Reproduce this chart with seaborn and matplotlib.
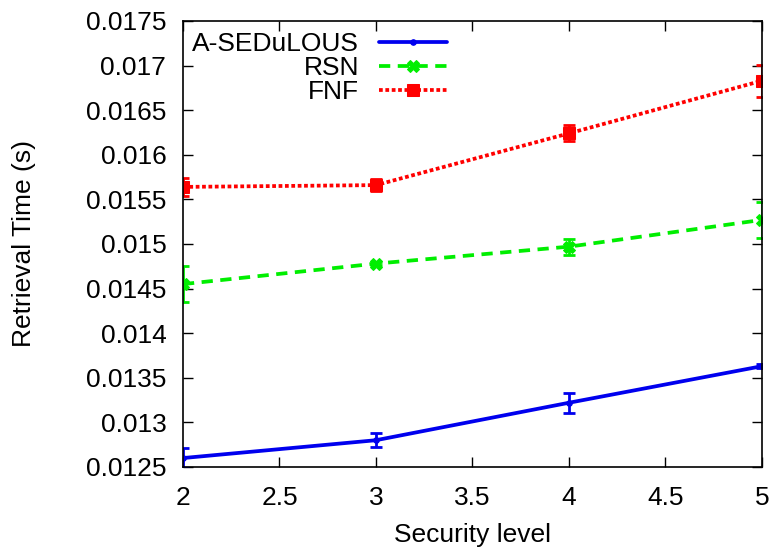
import matplotlib
matplotlib.use("Agg")
import matplotlib.pyplot as plt
import seaborn as sns
import pandas as pd
import numpy as np

levels = [2, 3, 4, 5]
sedulous = [0.01260, 0.01280, 0.01322, 0.01363]
sedulous_err = [0.00011, 0.00008, 0.00011, 0.00002]
rsn = [0.01455, 0.01478, 0.01497, 0.01527]
rsn_err = [0.00020, 0.00002, 0.00009, 0.00020]
fnf = [0.01564, 0.01566, 0.01624, 0.01683]
fnf_err = [0.00010, 0.00007, 0.00009, 0.00018]

series_names = ["A-SEDuLOUS", "RSN", "FNF"]
colors = ["#0000ee", "#00ee00", "#ff0000"]

sns.set_style("ticks", rc={"text.color": "black", "axes.labelcolor": "black",
                           "xtick.color": "black", "ytick.color": "black",
                           "axes.edgecolor": "black"})
plt.rcParams["font.family"] = ["Liberation Sans", "DejaVu Sans"]

fig = plt.figure(figsize=(7.74, 5.51), dpi=100)
ax = fig.add_axes([0.2364, 0.1525, 0.748, 0.8094])

df = pd.DataFrame({
    "level": levels * 3,
    "time": sedulous + rsn + fnf,
    "err": sedulous_err + rsn_err + fnf_err,
    "series": sum([[n] * len(levels) for n in series_names], []),
})

styles = {
    "A-SEDuLOUS": dict(ls="-", marker="o", ms=4, lw=2.7),
    "RSN": dict(ls=(0, (3, 2)), marker="X", ms=8, lw=2.7),
    "FNF": dict(ls=(0, (1, 0.7)), marker="s", ms=8, lw=2.7),
}

for name, col in zip(series_names, colors):
    sub = df[df["series"] == name]
    st = styles[name]
    sns.lineplot(data=sub, x="level", y="time", ax=ax, color=col,
                 linestyle=st["ls"], linewidth=st["lw"], marker=st["marker"],
                 markersize=st["ms"], markeredgecolor=col, label=name,
                 errorbar=None)
    ax.errorbar(sub["level"], sub["time"], yerr=sub["err"], fmt="none",
                ecolor=col, elinewidth=2, capsize=4, capthick=2,
                linestyle=st["ls"])

ax.set_xlim(2, 5)
ax.set_ylim(0.0125, 0.0175)
ax.set_xticks([2, 2.5, 3, 3.5, 4, 4.5, 5])
ax.set_xticklabels(["2", "2.5", "3", "3.5", "4", "4.5", "5"])
yt = np.arange(0.0125, 0.01751, 0.0005)
ax.set_yticks(yt)
ax.set_yticklabels([f"{v:.4f}".rstrip("0") for v in yt])
ax.tick_params(direction="in", top=True, right=True, length=7, width=1,
               labelsize=19, colors="black")
ax.tick_params(axis="y", pad=12)
ax.tick_params(axis="x", pad=14)
for s in ax.spines.values():
    s.set_visible(True)
    s.set_linewidth(1.2)
    s.set_color("black")

ax.set_xlabel("Security level", fontsize=19, labelpad=9)
ax.set_ylabel("Retrieval Time (s)", fontsize=19, labelpad=36)

ax.legend(loc="upper left", frameon=False, markerfirst=False,
          fontsize=19, handlelength=2.6, handletextpad=0.75,
          borderaxespad=0.0, borderpad=0.35, labelspacing=0.0,
          bbox_to_anchor=(0.0, 0.996))

fig.savefig("out.png", dpi=100)
